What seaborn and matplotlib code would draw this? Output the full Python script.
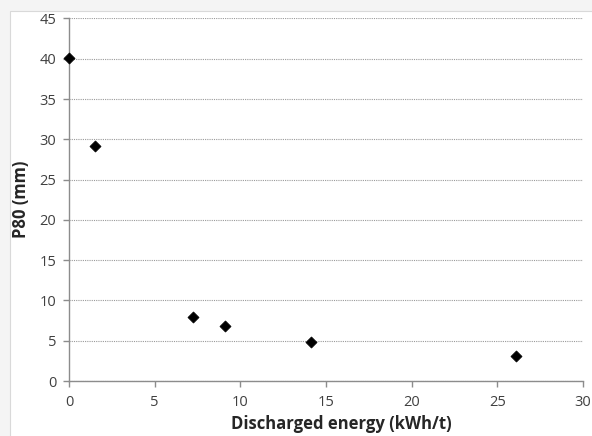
import matplotlib
matplotlib.use("Agg")
import matplotlib.pyplot as plt
import seaborn as sns
import pandas as pd
from matplotlib.patches import Rectangle

energy = [0.0, 1.5, 7.25, 9.1, 14.1, 26.1]
p80 = [40.1, 29.2, 7.9, 6.8, 4.8, 3.1]
xticks = [0, 5, 10, 15, 20, 25, 30]
yticks = [0, 5, 10, 15, 20, 25, 30, 35, 40, 45]

sns.set_theme(style="white")
plt.rcParams['font.family'] = ['Open Sans', 'DejaVu Sans']

df = pd.DataFrame({"energy": energy, "p80": p80})

fig = plt.figure(figsize=(5.92, 4.36), dpi=100)
fig.patch.set_facecolor('#f4f4f4')
bg = Rectangle((10/592, -0.01), 1, 1.01 - 11/436, transform=fig.transFigure,
               facecolor='white', edgecolor='#d9d9d9', linewidth=0.8, zorder=-10)
fig.patches.append(bg)
ax = fig.add_axes([69/592, 1 - 381/436, (583 - 69)/592, (381 - 18.5)/436])
ax.set_zorder(5)
ax.set_facecolor('none')

sns.scatterplot(data=df, x="energy", y="p80", marker='D', s=32, color='black',
                edgecolor='black', linewidth=0.5, ax=ax, zorder=5, clip_on=False)

ax.set_xlim(0, 30)
ax.set_ylim(0, 45)
ax.set_xticks(xticks)
ax.set_yticks(yticks)
ax.set_xticklabels([str(t) for t in xticks], fontsize=10.5, color='#404040')
ax.set_yticklabels([str(t) for t in yticks], fontsize=10.5, color='#404040')
ax.yaxis.grid(True, linestyle=(0, (1, 1)), color='#9a9a9a', linewidth=0.8)
ax.xaxis.grid(False)
ax.set_axisbelow(True)
for s in ['top', 'right']:
    ax.spines[s].set_visible(False)
for s in ['left', 'bottom']:
    ax.spines[s].set_color('#8c8c8c')
    ax.spines[s].set_linewidth(1.0)
ax.tick_params(axis='x', which='both', bottom=True, direction='out', length=4, width=1, color='#8c8c8c', pad=6)
ax.tick_params(axis='y', which='both', left=True, direction='out', length=4, width=1, color='#8c8c8c', pad=5)

ax.set_xlabel("Discharged energy (kWh/t)", fontsize=12, fontweight='bold', color='#262626', labelpad=4)
ax.set_ylabel("P80 (mm)", fontsize=12, fontweight='bold', color='#262626', labelpad=7)
ax.xaxis.label.set_x((341 - 69) / 514)

fig.savefig("out.png", dpi=100, facecolor=fig.get_facecolor())
